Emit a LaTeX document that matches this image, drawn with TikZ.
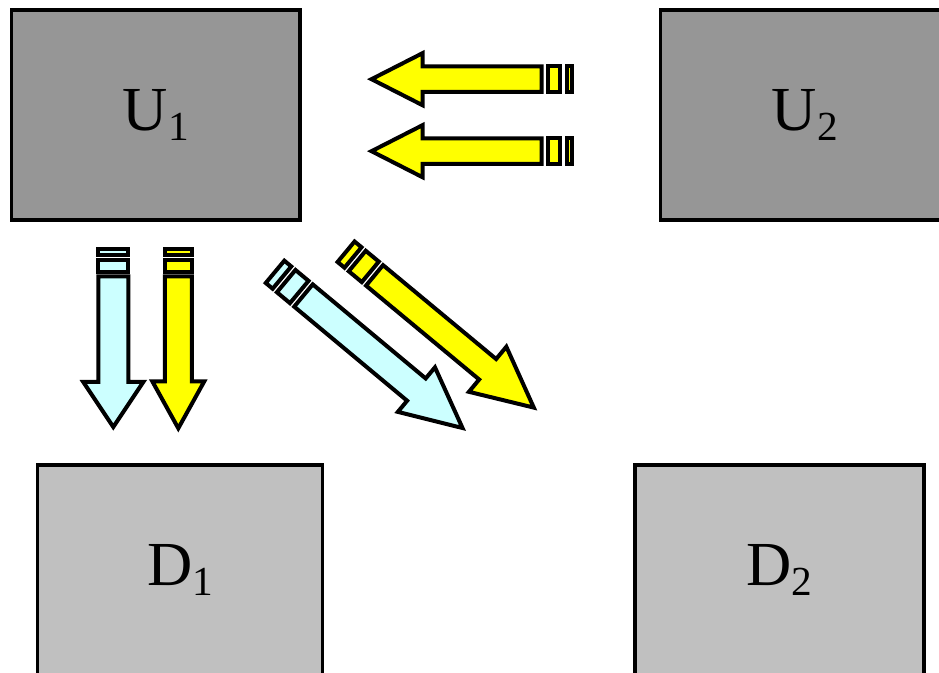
\documentclass[tikz,border=0pt]{standalone}
\usepackage{fontspec}
\setmainfont{Liberation Serif}
\definecolor{ugray}{HTML}{969696}
\definecolor{dgray}{HTML}{C0C0C0}
\definecolor{ayellow}{HTML}{FFFF00}
\definecolor{acyan}{HTML}{CCFFFF}
\newcommand\boxlabel[2]{#1\raisebox{-7.5pt}{\fontsize{31}{31}\selectfont #2}}
\tikzset{
  sa hl/.store in=\saHL, sa hw/.store in=\saHW, sa sw/.store in=\saSW,
  sa len/.store in=\saLEN, sa gap/.store in=\saGAP, sa a/.store in=\saA,
  sa b/.store in=\saB, sa fill/.store in=\saFILL,
  arrowline/.style={draw=black, line width=3pt, line join=miter, miter limit=10},
  blockbox/.style={draw=black, line width=2.7pt, rectangle, inner sep=0pt,
    minimum width=216.4pt, minimum height=157.6pt, font=\fontsize{47}{50}\selectfont},
  ubox/.style={blockbox, fill=ugray},
  dbox/.style={blockbox, fill=dgray},
  harrow/.style={sa fill=ayellow, sa hl=51, sa hw=26, sa sw=12.7, sa len=170, sa gap=6.5, sa a=12, sa b=5.3},
  diagarrow/.style={sa hl=60, sa hw=29, sa len=207, sa gap=5.5, sa a=17, sa b=9},
}
\newcommand\stripedarrow[3]{%
  \begin{scope}[shift={#1}, rotate=#2, #3]
    \pgfmathsetmacro\saP{\saLEN+\saGAP}
    \pgfmathsetmacro\saQ{\saP+\saA}
    \pgfmathsetmacro\saR{\saQ+\saGAP}
    \pgfmathsetmacro\saS{\saR+\saB}
    \filldraw[arrowline, fill=\saFILL] (0,0) -- (-\saHL,\saHW) -- (-\saHL,\saSW)
      -- (-\saLEN,\saSW) -- (-\saLEN,-\saSW) -- (-\saHL,-\saSW) -- (-\saHL,-\saHW) -- cycle;
    \filldraw[arrowline, fill=\saFILL] (-\saP,\saSW) rectangle (-\saQ,-\saSW);
    \filldraw[arrowline, fill=\saFILL] (-\saR,\saSW) rectangle (-\saS,-\saSW);
  \end{scope}}
\begin{document}
\begin{tikzpicture}[x=0.75pt, y=-0.75pt]
  \useasboundingbox (0,0) rectangle (939,673);
  \clip (0,0) rectangle (939,673);
  % boxes
  \node[ubox] (u1) at (155.75,114.9) {\boxlabel{U}{1}};
  \node[ubox] (u2) at (804.75,114.9) {\boxlabel{U}{2}};
  \node[dbox, minimum width=213.75pt] (d1) at (180,569.9) {\boxlabel{D}{1}};
  \node[dbox] (d2) at (779.5,569.9) {\boxlabel{D}{2}};
  % horizontal arrows U2 -> U1
  \stripedarrow{(371.5,79.2)}{180}{harrow}
  \stripedarrow{(371.5,151.2)}{180}{harrow}
  % vertical arrows U1 -> D1
  \stripedarrow{(113.3,427)}{-90}{sa fill=acyan, sa hl=45, sa hw=30, sa sw=15, sa len=150.5, sa gap=4.7, sa a=12, sa b=6}
  \stripedarrow{(178.3,428.3)}{-90}{sa fill=ayellow, sa hl=47, sa hw=26, sa sw=13.5, sa len=151.8, sa gap=4.7, sa a=12, sa b=6}
  % diagonal arrows U1 -> D2
  \stripedarrow{(462.5,428)}{-39.8}{diagarrow, sa fill=acyan, sa sw=14.5}
  \stripedarrow{(533.8,407.6)}{-39.7}{diagarrow, sa fill=ayellow, sa hw=29.3, sa sw=13.3}
\end{tikzpicture}
\end{document}
